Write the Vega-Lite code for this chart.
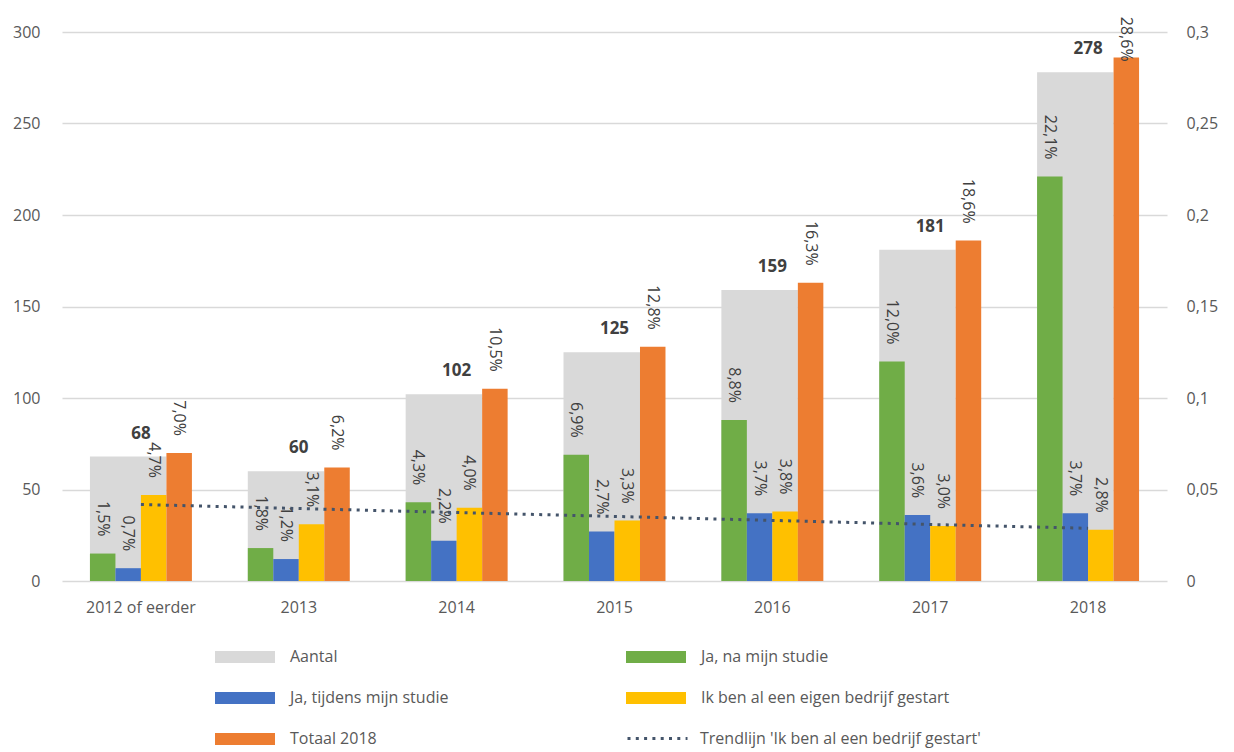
{
  "$schema": "https://vega.github.io/schema/vega-lite/v6.json",
  "width": 1105,
  "height": 549,
  "autosize": "none",
  "padding": {"left": 62, "top": 32, "right": 67, "bottom": 171},
  "background": "white",
  "datasets": {
    "jaren": [
      {"jaar": "2012 of eerder", "aantal": 68, "trend": 0.0418},
      {"jaar": "2013", "aantal": 60, "trend": 0.0396},
      {"jaar": "2014", "aantal": 102, "trend": 0.0374},
      {"jaar": "2015", "aantal": 125, "trend": 0.0353},
      {"jaar": "2016", "aantal": 159, "trend": 0.0331},
      {"jaar": "2017", "aantal": 181, "trend": 0.0309},
      {"jaar": "2018", "aantal": 278, "trend": 0.0288}
    ],
    "reeksen": [
      {"jaar": "2012 of eerder", "reeks": "Ja, na mijn studie", "waarde": 0.015},
      {"jaar": "2012 of eerder", "reeks": "Ja, tijdens mijn studie", "waarde": 0.007},
      {"jaar": "2012 of eerder", "reeks": "Ik ben al een eigen bedrijf gestart", "waarde": 0.047},
      {"jaar": "2012 of eerder", "reeks": "Totaal 2018", "waarde": 0.070},
      {"jaar": "2013", "reeks": "Ja, na mijn studie", "waarde": 0.018},
      {"jaar": "2013", "reeks": "Ja, tijdens mijn studie", "waarde": 0.012},
      {"jaar": "2013", "reeks": "Ik ben al een eigen bedrijf gestart", "waarde": 0.031},
      {"jaar": "2013", "reeks": "Totaal 2018", "waarde": 0.062},
      {"jaar": "2014", "reeks": "Ja, na mijn studie", "waarde": 0.043},
      {"jaar": "2014", "reeks": "Ja, tijdens mijn studie", "waarde": 0.022},
      {"jaar": "2014", "reeks": "Ik ben al een eigen bedrijf gestart", "waarde": 0.040},
      {"jaar": "2014", "reeks": "Totaal 2018", "waarde": 0.105},
      {"jaar": "2015", "reeks": "Ja, na mijn studie", "waarde": 0.069},
      {"jaar": "2015", "reeks": "Ja, tijdens mijn studie", "waarde": 0.027},
      {"jaar": "2015", "reeks": "Ik ben al een eigen bedrijf gestart", "waarde": 0.033},
      {"jaar": "2015", "reeks": "Totaal 2018", "waarde": 0.128},
      {"jaar": "2016", "reeks": "Ja, na mijn studie", "waarde": 0.088},
      {"jaar": "2016", "reeks": "Ja, tijdens mijn studie", "waarde": 0.037},
      {"jaar": "2016", "reeks": "Ik ben al een eigen bedrijf gestart", "waarde": 0.038},
      {"jaar": "2016", "reeks": "Totaal 2018", "waarde": 0.163},
      {"jaar": "2017", "reeks": "Ja, na mijn studie", "waarde": 0.120},
      {"jaar": "2017", "reeks": "Ja, tijdens mijn studie", "waarde": 0.036},
      {"jaar": "2017", "reeks": "Ik ben al een eigen bedrijf gestart", "waarde": 0.030},
      {"jaar": "2017", "reeks": "Totaal 2018", "waarde": 0.186},
      {"jaar": "2018", "reeks": "Ja, na mijn studie", "waarde": 0.221},
      {"jaar": "2018", "reeks": "Ja, tijdens mijn studie", "waarde": 0.037},
      {"jaar": "2018", "reeks": "Ik ben al een eigen bedrijf gestart", "waarde": 0.028},
      {"jaar": "2018", "reeks": "Totaal 2018", "waarde": 0.286}
    ]
  },
  "encoding": {
    "x": {"field": "jaar", "type": "nominal", "sort": null,
          "scale": {"paddingInner": 0.354, "paddingOuter": 0.177},
          "axis": {"title": null, "labelAngle": 0, "labelPadding": 18, "grid": false}}
  },
  "layer": [
    {
      "data": {"name": "jaren"},
      "layer": [
        {
          "mark": {"type": "bar", "width": {"band": 0.75}, "xOffset": -12.75},
          "encoding": {
            "y": {"field": "aantal", "type": "quantitative",
                  "scale": {"domain": [0, 300], "nice": false},
                  "axis": {"title": null, "values": [0, 50, 100, 150, 200, 250, 300], "format": "d",
                           "labelPadding": 22, "grid": true, "gridColor": "#d9d9d9", "gridWidth": 1.3}},
            "color": {"datum": "Aantal", "type": "nominal", "title": null,
                      "scale": {"domain": ["Aantal", "Ja, na mijn studie", "Ja, tijdens mijn studie", "Ik ben al een eigen bedrijf gestart", "Totaal 2018"],
                                "range": ["#d9d9d9", "#70ad47", "#4472c4", "#ffc000", "#ed7d31"]},
                      "legend": {
                        "title": null, "orient": "none", "legendX": 153, "legendY": 613,
                        "columns": 2, "direction": "horizontal",
                        "symbolType": "M-1,-0.5 L4,-0.5 L4,0.5 L-1,0.5 Z", "symbolSize": 576, "symbolStrokeWidth": 0, "symbolOpacity": 1,
                        "labelFont": "Open Sans", "labelFontSize": 16, "labelColor": "#595959",
                        "labelOffset": 51, "labelLimit": 400, "columnPadding": 177, "rowPadding": 21
                      }}
          }
        },
        {
          "mark": {"type": "text", "fontWeight": "bold", "fontSize": 17, "color": "#404040", "baseline": "middle", "dy": -23},
          "encoding": {
            "y": {"field": "aantal", "type": "quantitative"},
            "text": {"field": "aantal", "type": "quantitative", "format": "d"}
          }
        }
      ]
    },
    {
      "layer": [
        {
          "data": {"name": "reeksen"},
          "mark": {"type": "bar"},
          "encoding": {
            "xOffset": {"field": "reeks", "type": "nominal",
                        "scale": {"domain": ["Ja, na mijn studie", "Ja, tijdens mijn studie", "Ik ben al een eigen bedrijf gestart", "Totaal 2018"]}},
            "y": {"field": "waarde", "type": "quantitative",
                  "scale": {"domain": [0, 0.3], "nice": false},
                  "axis": {"title": null, "orient": "right", "values": [0, 0.05, 0.1, 0.15, 0.2, 0.25, 0.3], "format": ".2~f",
                           "labelPadding": 19, "grid": false}},
            "color": {"field": "reeks", "type": "nominal", "title": null}
          }
        },
        {
          "data": {"name": "reeksen"},
          "transform": [{"filter": "datum.waarde < 0.28"}],
          "mark": {"type": "text", "angle": 90, "align": "right", "baseline": "middle", "dx": -17, "fontSize": 16, "color": "#404040"},
          "encoding": {
            "xOffset": {"field": "reeks", "type": "nominal"},
            "y": {"field": "waarde", "type": "quantitative"},
            "text": {"field": "waarde", "type": "quantitative", "format": ".1%"}
          }
        },
        {
          "data": {"name": "reeksen"},
          "transform": [{"filter": "datum.waarde >= 0.28"}],
          "mark": {"type": "text", "angle": 90, "align": "right", "baseline": "middle", "dx": 4, "fontSize": 16, "color": "#404040"},
          "encoding": {
            "xOffset": {"field": "reeks", "type": "nominal"},
            "y": {"field": "waarde", "type": "quantitative"},
            "text": {"field": "waarde", "type": "quantitative", "format": ".1%"}
          }
        },
        {
          "data": {"name": "jaren"},
          "mark": {"type": "line", "strokeWidth": 3, "strokeCap": "butt", "color": "#44546a"},
          "encoding": {
            "y": {"field": "trend", "type": "quantitative"},
            "strokeDash": {"datum": "Trendlijn 'Ik ben al een bedrijf gestart'", "type": "nominal", "title": null,
                           "scale": {"domain": ["Trendlijn 'Ik ben al een bedrijf gestart'"], "range": [[3, 5.3]]},
                           "legend": {
                             "title": null, "orient": "none", "legendX": 564, "legendY": 675,
                             "symbolType": "stroke", "symbolSize": 3600, "symbolStrokeWidth": 3,
                             "symbolStrokeColor": "#44546a", "symbolOpacity": 1,
                             "labelFont": "Open Sans", "labelFontSize": 16, "labelColor": "#595959",
                             "labelOffset": 11, "labelLimit": 400
                           }}
          }
        }
      ]
    }
  ],
  "resolve": {
    "scale": {"y": "independent"}
  },
  "config": {
    "font": "Open Sans",
    "view": {"stroke": null},
    "locale": {"number": {"decimal": ",", "thousands": ".", "grouping": [3], "currency": ["€", ""]}},
    "axis": {"labelFont": "Open Sans", "labelFontSize": 16, "labelColor": "#595959", "ticks": false, "domain": false},
    "scale": {"offsetBandPaddingInner": 0, "offsetBandPaddingOuter": 0}
  }
}
